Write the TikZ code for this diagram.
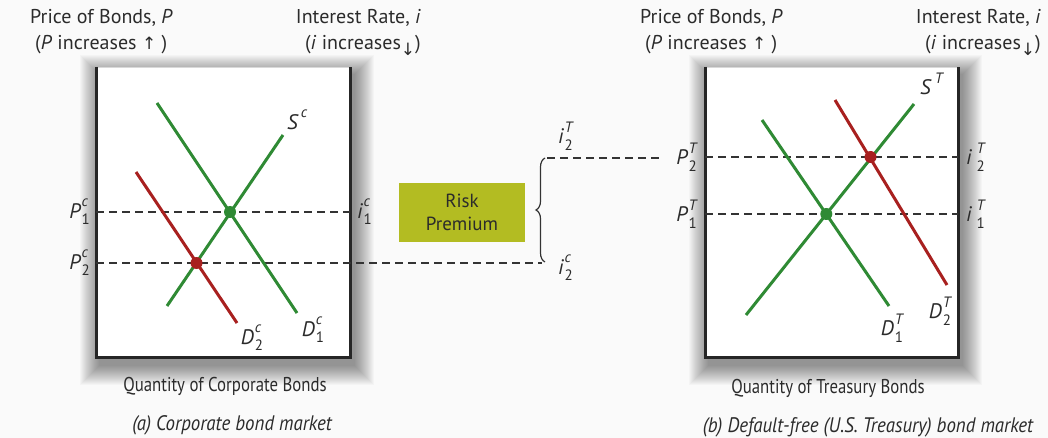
\documentclass[tikz,border=0pt]{standalone}
\usepackage{fontspec}
\setmainfont{PT Sans}
\newfontfamily\condfont[FakeStretch=0.84]{PT Sans}
\newfontfamily\captfont[FakeStretch=0.9]{PT Sans}
\newfontfamily\symfont{DejaVu Sans}
\usetikzlibrary{decorations.pathreplacing}
\definecolor{gline}{HTML}{2F8A34}
\definecolor{rline}{HTML}{A8201F}
\definecolor{olivebox}{HTML}{B3BC22}
\definecolor{bgcol}{HTML}{FAFAFA}
\definecolor{framecol}{HTML}{262626}
\definecolor{txt}{HTML}{2B2B2B}
\newcommand\lbl[3]{{\itshape #1}\kern1pt\rlap{\raisebox{0.55em}{\fontsize{15}{15}\selectfont\itshape #3}}\raisebox{-0.32em}{\fontsize{15}{15}\selectfont #2}}
\newcommand\lblsp[3]{{\itshape #1}\kern5pt\rlap{\raisebox{0.55em}{\fontsize{15}{15}\selectfont\itshape #3}}\raisebox{-0.32em}{\fontsize{15}{15}\selectfont #2}}
\tikzset{
  lab/.style={inner sep=0pt, text=txt, font=\fontsize{21}{21}\selectfont},
  head/.style={inner sep=0pt, text=txt, font=\fontsize{20}{20}\selectfont},
  foot/.style={inner sep=0pt, text=txt, font=\condfont\fontsize{20}{20}\selectfont},
  capt/.style={inner sep=0pt, text=txt, font=\captfont\itshape\fontsize{21}{21}\selectfont},
  curveg/.style={gline, line width=3pt},
  curver/.style={rline, line width=3pt},
  guide/.style={black!80, line width=1.3pt, dash pattern=on 8pt off 5pt},
  dotg/.style={circle, fill=gline, minimum size=12pt, inner sep=0pt},
  dotr/.style={circle, fill=rline, minimum size=12pt, inner sep=0pt},
  framestyle/.style={framecol, line width=3pt},
}
\begin{document}
\begin{tikzpicture}[x=1pt,y=-1pt]
\useasboundingbox[fill=bgcol] (0,0) rectangle (1048,438);
% shadows
\foreach \k in {1,...,20}{
  \fill[black, opacity=0.024] (96-\k+4,67-\k+8) rectangle (350+\k+4,357+\k+8);
  \fill[black, opacity=0.024] (705-\k+4,67-\k+8) rectangle (958+\k+4,357+\k+8);
}
% boxes
\fill[white] (96,67) rectangle (350,357);
\fill[white] (705,67) rectangle (958,357);
\draw[black!15, line width=0.8pt] (96,67) -- (350,67);
\draw[black!15, line width=0.8pt] (705,67) -- (958,67);
\coordinate (LTL) at (96,67); \coordinate (LBL) at (96,357);
\coordinate (LBR) at (350,357); \coordinate (LTR) at (350,67);
\coordinate (RTL) at (705,67); \coordinate (RBL) at (705,357);
\coordinate (RBR) at (958,357); \coordinate (RTR) at (958,67);
\draw[framestyle] (LTL) -- (LBL) -- (LBR) -- (LTR);
\draw[framestyle] (RTL) -- (RBL) -- (RBR) -- (RTR);

% headers
\node[head, anchor=west] (h1) at (30,18) {Price of Bonds, \textit{P}};
\node[head, anchor=west] (h2) at (35,45) {(\textit{P} increases {\symfont\fontsize{17}{17}\selectfont ↑} )};
\node[head, anchor=east] (h3) at (421,18) {Interest Rate, \textit{i}};
\node[head, anchor=east] (h4) at (421,45) {(\textit{i} increases\raisebox{-0.3em}{\symfont\fontsize{17}{17}\selectfont ↓})};
\node[head, anchor=west] (h5) at (640,18) {Price of Bonds, \textit{P}};
\node[head, anchor=west] (h6) at (645,45) {(\textit{P} increases {\symfont\fontsize{17}{17}\selectfont ↑} )};
\node[head, anchor=east] (h7) at (1041,18) {Interest Rate, \textit{i}};
\node[head, anchor=east] (h8) at (1041,45) {(\textit{i} increases\raisebox{-0.3em}{\symfont\fontsize{17}{17}\selectfont ↓})};

% footers
\node[foot] (f1) at (225,386) {Quantity of Corporate Bonds};
\node[foot] (f2) at (828,388) {Quantity of Treasury Bonds};
\node[capt] (f3) at (232,425) {(a) Corporate bond market};
\node[capt] (f4) at (868,427) {(b) Default-free (U.S. Treasury) bond market};

% left panel guides
\coordinate (gP1a) at (96,212); \coordinate (gP1b) at (350,212);
\coordinate (gP2a) at (96,263); \coordinate (gP2b) at (542,263);
\draw[guide] (gP1a) -- (gP1b);
\draw[guide] (gP2a) -- (gP2b);

% right panel guides
\coordinate (gT2a) at (547,158); \coordinate (gT2b) at (660,158);
\coordinate (gT2c) at (705,157); \coordinate (gT2d) at (958,157);
\coordinate (gT1a) at (705,214); \coordinate (gT1b) at (958,214);
\draw[guide] (gT2a) -- (gT2b);
\draw[guide] (gT2c) -- (gT2d);
\draw[guide] (gT1a) -- (gT1b);

% brace
\coordinate (brB) at (545,262); \coordinate (brT) at (545,158);
\draw[black!80, line width=1.2pt, decorate, decoration={brace, amplitude=9pt}] (brB) -- (brT);

% left curves
\coordinate (Sc1) at (167,306); \coordinate (Sc2) at (283,135);
\coordinate (Dca) at (157,103); \coordinate (Dcb) at (297,313);
\coordinate (Dda) at (136,172); \coordinate (Ddb) at (237,323);
\draw[curveg] (Dca) -- (Dcb);
\draw[curver] (Dda) -- (Ddb);
\draw[curveg] (Sc1) -- (Sc2);
\node[dotg] (E1) at (230,212) {};
\node[dotr] (E2) at (196.5,263) {};

% right curves
\coordinate (St1) at (746,315); \coordinate (St2) at (914,104);
\coordinate (Dta) at (762,120); \coordinate (Dtb) at (889,306);
\coordinate (Dua) at (835,100); \coordinate (Dub) at (947,285);
\draw[curver] (Dua) -- (Dub);
\draw[curveg] (Dta) -- (Dtb);
\draw[curveg] (St1) -- (St2);
\node[dotg] (E3) at (826.3,214) {};
\node[dotr] (E4) at (870.5,157) {};

% labels left
\node[lab, anchor=east] (lP1c) at (90,212) {\lbl{P}{1}{c}};
\node[lab, anchor=east] (lP2c) at (90,263) {\lbl{P}{2}{c}};
\node[lab, anchor=west] (li1c) at (357,212) {\lbl{i}{1}{c}};
\node[lab] (lSc) at (293,123) {\lbl{S}{}{\kern2pt c}};
\node[lab] (lD1c) at (313,330) {\lbl{D}{1}{c}};
\node[lab] (lD2c) at (252,338) {\lbl{D}{2}{c}};

% middle
\node[lab, anchor=west] (li2T) at (558,136) {\lbl{i}{2}{T}};
\node[lab, anchor=west] (li2c) at (558,268) {\lbl{i}{2}{c}};
\node[fill=olivebox, minimum width=126pt, minimum height=59pt, inner sep=0pt, align=center, text=txt, font=\fontsize{19}{23}\selectfont] (risk) at (462,212.5) {Risk\\Premium};

% labels right
\node[lab, anchor=east] (lP2T) at (697,157) {\lbl{P}{2}{T}};
\node[lab, anchor=east] (lP1T) at (697,214) {\lbl{P}{1}{T}};
\node[lab, anchor=west] (ri2T) at (966,157) {\lblsp{i}{2}{T}};
\node[lab, anchor=west] (ri1T) at (966,214) {\lblsp{i}{1}{T}};
\node[lab] (lST) at (926,87) {\lbl{S}{}{\kern3pt T}};
\node[lab] (lD1T) at (892,328) {\lbl{D}{1}{T}};
\node[lab] (lD2T) at (940,311) {\lbl{D}{2}{T}};
\end{tikzpicture}
\end{document}
